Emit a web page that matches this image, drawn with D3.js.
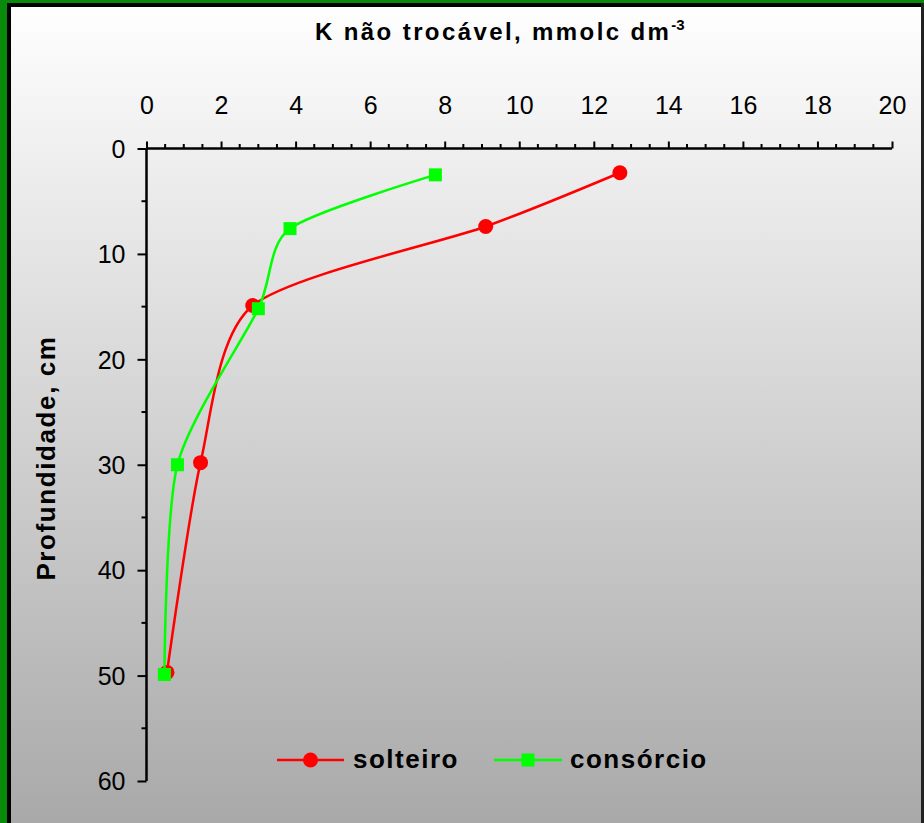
<!DOCTYPE html>
<html>
<head>
<meta charset="utf-8">
<script src="https://cdn.jsdelivr.net/npm/d3@7"></script>
<style>
html,body{margin:0;padding:0;background:#fff;}
svg{display:block;}
text{font-family:"Liberation Sans",Arial,sans-serif;}
</style>
</head>
<body>
<script>
// ---- data ----
const seriesNames = ["solteiro", "consórcio"];
const solteiroK = [12.7, 9.1, 2.85, 1.45, 0.55];
const solteiroDepth = [2.3, 7.4, 14.9, 29.8, 49.7];
const consorcioK = [7.75, 3.85, 3.0, 0.83, 0.48];
const consorcioDepth = [2.5, 7.6, 15.2, 30.0, 49.9];
const xTicks = [0, 2, 4, 6, 8, 10, 12, 14, 16, 18, 20];
const yTicks = [0, 10, 20, 30, 40, 50, 60];
const titleText = "K não trocável, mmolc dm";
const titleSup = "-3";
const yTitleText = "Profundidade, cm";

const W = 924, H = 823;
const svg = d3.select("body").append("svg").attr("width", W).attr("height", H);

// background gradient
const defs = svg.append("defs");
const grad = defs.append("linearGradient").attr("id", "bg").attr("x1", 0).attr("y1", 0).attr("x2", 0).attr("y2", 1);
grad.append("stop").attr("offset", "0%").attr("stop-color", "#ffffff");
grad.append("stop").attr("offset", "100%").attr("stop-color", "#a9a9a9");
svg.append("rect").attr("x", 0).attr("y", 0).attr("width", W).attr("height", H).attr("fill", "url(#bg)");
// borders
svg.append("rect").attr("x", 0).attr("y", 0).attr("width", W).attr("height", 3).attr("fill", "#0a8a0a");
svg.append("rect").attr("x", 0).attr("y", 0).attr("width", 7).attr("height", H).attr("fill", "#0a8a0a");
svg.append("rect").attr("x", 7).attr("y", 3).attr("width", W - 7).attr("height", 4).attr("fill", "#000");
svg.append("rect").attr("x", 7).attr("y", 3).attr("width", 4).attr("height", H).attr("fill", "#000");
svg.append("rect").attr("x", 921).attr("y", 3).attr("width", 3).attr("height", H).attr("fill", "#222");

// scales
const x = d3.scaleLinear().domain([0, 20]).range([146.5, 892]);
const y = d3.scaleLinear().domain([0, 60]).range([148.5, 781]);

// x axis (top)
const xAxis = d3.axisTop(x).tickValues(xTicks).tickSize(7).tickPadding(28).tickFormat(d3.format("d"));
const gx = svg.append("g").attr("transform", `translate(0,${y(0)})`).call(xAxis);
gx.select(".domain").attr("stroke", "#000").attr("stroke-width", 2.5).attr("d", `M${x(0)},0H${x(20)}`);
gx.selectAll(".tick line").attr("stroke", "#000").attr("stroke-width", 2);
gx.selectAll(".tick text").attr("font-size", 25).attr("fill", "#000");
const xMinor = d3.range(0.5, 20.01, 0.5).filter(v => v % 2 !== 0);
gx.selectAll(".minor").data(xMinor).enter().append("line")
  .attr("x1", d => x(d)).attr("x2", d => x(d)).attr("y1", 0).attr("y2", -4.5)
  .attr("stroke", "#000").attr("stroke-width", 2);

// y axis (left)
const yAxis = d3.axisLeft(y).tickValues(yTicks).tickSize(9).tickPadding(12).tickFormat(d3.format("d"));
const gy = svg.append("g").attr("transform", `translate(${x(0)},0)`).call(yAxis);
gy.select(".domain").attr("stroke", "#000").attr("stroke-width", 2.5).attr("d", `M0,${y(0)}V${y(60)}`);
gy.selectAll(".tick line").attr("stroke", "#000").attr("stroke-width", 2);
gy.selectAll(".tick text").attr("font-size", 25).attr("fill", "#000").attr("dy", "0.35em");
const yMinor = d3.range(5, 60, 10);
gy.selectAll(".minor").data(yMinor).enter().append("line")
  .attr("x1", -5).attr("x2", 0).attr("y1", d => y(d)).attr("y2", d => y(d))
  .attr("stroke", "#000").attr("stroke-width", 2);

// titles
const t = svg.append("text").attr("x", 315).attr("y", 40).attr("text-anchor", "start")
  .attr("font-size", 24).attr("font-weight", "bold").attr("fill", "#000").attr("letter-spacing", 2.4);
t.append("tspan").text(titleText);
t.append("tspan").attr("font-size", 15).attr("dy", -10).attr("letter-spacing", 0).text(titleSup);

svg.append("text").attr("transform", "translate(55,458) rotate(-90)").attr("text-anchor", "middle")
  .attr("font-size", 26).attr("font-weight", "bold").attr("fill", "#000").attr("letter-spacing", 1.6).text(yTitleText);

// series
const series = [
  {name: seriesNames[0], k: solteiroK, d: solteiroDepth, color: "#ff0000", shape: "circle"},
  {name: seriesNames[1], k: consorcioK, d: consorcioDepth, color: "#00ff00", shape: "square"}
];
const line = d3.line().x(p => x(p[0])).y(p => y(p[1])).curve(d3.curveCardinal.tension(0.25));

function marker(g, shape, color, cx, cy) {
  if (shape === "circle") {
    g.append("circle").attr("cx", cx).attr("cy", cy).attr("r", 7.5).attr("fill", color);
  } else {
    g.append("rect").attr("x", cx - 6.5).attr("y", cy - 6.5).attr("width", 13).attr("height", 13).attr("fill", color);
  }
}

series.forEach(s => {
  const pts = s.k.map((v, i) => [v, s.d[i]]);
  svg.append("path").datum(pts).attr("d", line).attr("fill", "none").attr("stroke", s.color).attr("stroke-width", 2.5);
  const g = svg.append("g");
  pts.forEach(p => marker(g, s.shape, s.color, x(p[0]), y(p[1])));
});

// legend
const legendItems = [
  {s: series[0], x1: 277, x2: 344, tx: 353},
  {s: series[1], x1: 494, x2: 562, tx: 570}
];
legendItems.forEach(li => {
  const g = svg.append("g");
  const ly = 760;
  g.append("line").attr("x1", li.x1).attr("x2", li.x2).attr("y1", ly).attr("y2", ly)
    .attr("stroke", li.s.color).attr("stroke-width", 2.5);
  marker(g, li.s.shape, li.s.color, (li.x1 + li.x2) / 2, ly);
  g.append("text").attr("x", li.tx).attr("y", 768)
    .attr("font-size", 26).attr("font-weight", "bold").attr("fill", "#000").attr("letter-spacing", 1.5).text(li.s.name);
});
</script>
</body>
</html>
